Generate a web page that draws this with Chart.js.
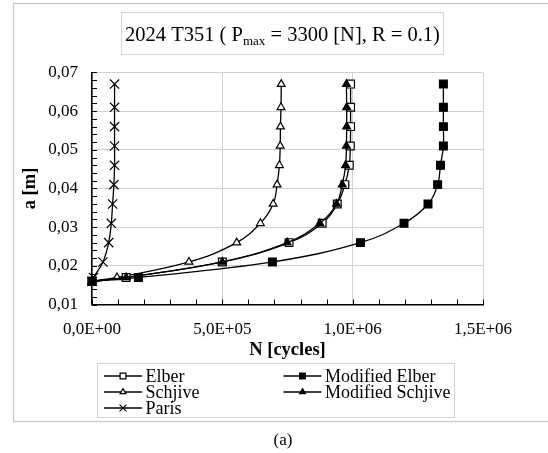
<!DOCTYPE html>
<html>
<head>
<meta charset="utf-8">
<script src="https://cdn.jsdelivr.net/npm/chart.js@4/dist/chart.umd.min.js"></script>
<style>
  html, body { margin: 0; padding: 0; background: #fff; }
  #wrap { width: 548px; height: 453px; }
</style>
</head>
<body>
<div id="wrap"><canvas id="c" width="548" height="453"></canvas></div>
<script>
// crack length levels [m], shared by all series
const aLevels = [0.016, 0.017, 0.021, 0.026, 0.031, 0.036, 0.041, 0.046, 0.051, 0.056, 0.061, 0.067];

// cycles for each model
const nElber       = [0, 131000, 500000, 756000, 883000, 941000, 970000, 987000, 991000, 992000, 992000, 992000];
const nSchjive     = [0, 96000, 372000, 555000, 646000, 695000, 710000, 719000, 722000, 723000, 725000, 726000];
const nParis       = [0, 6000, 42000, 64000, 74000, 79000, 84000, 86500, 86500, 86500, 86500, 86500];
const nModElber    = [0, 178000, 692000, 1030000, 1197000, 1289000, 1326000, 1337000, 1348000, 1348000, 1348000, 1348000];
const nModSchjive  = [0, 131000, 500000, 749000, 874000, 938000, 960000, 973000, 976000, 977000, 977000, 976000];

const seriesNames = ['Elber', 'Schjive', 'Paris', 'Modified Elber', 'Modified Schjive'];

const xTickLabels = ['0,0E+00', '5,0E+05', '1,0E+06', '1,5E+06'];
const yTickLabels = ['0,01', '0,02', '0,03', '0,04', '0,05', '0,06', '0,07'];

const SERIF = '"Liberation Serif", "Times New Roman", serif';

function pts(ns) {
    return ns.map(function (n, i) { return { x: n, y: aLevels[i] }; });
}

function series(label, ns, style, fill, radius, order) {
    return {
        label: label,
        data: pts(ns),
        order: order,
        showLine: true,
        tension: 0.4,
        borderColor: '#000',
        borderWidth: 1.3,
        pointStyle: style,
        pointRadius: radius,
        pointHoverRadius: radius,
        pointBackgroundColor: fill,
        pointBorderColor: '#000',
        pointBorderWidth: 1.2,
        clip: false
    };
}

// legend slots (col, row) for each dataset index
const legendSlots = [[0, 0], [0, 1], [0, 2], [1, 0], [1, 1]];

const decor = {
    id: 'decor',
    beforeDraw: function (chart) {
        const ctx = chart.ctx;
        ctx.save();
        ctx.fillStyle = '#fff';
        ctx.fillRect(0, 0, chart.width, chart.height);

        // outer frame
        ctx.strokeStyle = '#c8c8c8';
        ctx.lineWidth = 1.2;
        ctx.strokeRect(13.5, 3.5, 545, 418);

        // title box
        ctx.strokeStyle = '#d4d4d4';
        ctx.lineWidth = 1;
        ctx.strokeRect(121.5, 12.5, 322, 42);

        // title text with subscript
        const big = '20.5px ' + SERIF, small = '13px ' + SERIF;
        const t1 = '2024 T351 ( P', t2 = 'max', t3 = ' = 3300 [N], R = 0.1)';
        ctx.font = big;
        const w1 = ctx.measureText(t1).width, w3 = ctx.measureText(t3).width;
        ctx.font = small;
        const w2 = ctx.measureText(t2).width;
        let x = 282.5 - (w1 + w2 + w3) / 2;
        const base = 40.5;
        ctx.fillStyle = '#000';
        ctx.textBaseline = 'alphabetic';
        ctx.textAlign = 'left';
        ctx.font = big;
        ctx.fillText(t1, x, base);
        x += w1;
        ctx.font = small;
        ctx.fillText(t2, x, base + 4);
        x += w2;
        ctx.font = big;
        ctx.fillText(t3, x, base);

        // legend box
        ctx.strokeStyle = '#d4d4d4';
        ctx.strokeRect(97.5, 363.5, 357, 54);
        ctx.restore();
    },
    beforeDatasetsDraw: function (chart) {
        // inward tick marks
        const ctx = chart.ctx, xs = chart.scales.x, ys = chart.scales.y;
        const area = chart.chartArea;
        ctx.save();
        ctx.strokeStyle = '#000';
        ctx.lineWidth = 1;
        ctx.beginPath();
        for (let v = 0.01; v <= 0.0701; v += 0.002) {
            const py = Math.round(ys.getPixelForValue(v)) + 0.5;
            ctx.moveTo(area.left, py);
            ctx.lineTo(area.left + 5, py);
        }
        for (let v = 0; v <= 1.5e6 + 1; v += 1e5) {
            const px = Math.round(xs.getPixelForValue(v)) + 0.5;
            ctx.moveTo(px, area.bottom);
            ctx.lineTo(px, area.bottom - 5);
        }
        ctx.stroke();
        ctx.restore();
    },
    afterDraw: function (chart) {
        const ctx = chart.ctx, area = chart.chartArea;
        ctx.save();
        ctx.fillStyle = '#000';
        ctx.textAlign = 'center';
        ctx.textBaseline = 'middle';

        // axis titles
        ctx.font = 'bold 18.5px ' + SERIF;
        ctx.fillText('N [cycles]', (area.left + area.right) / 2, 350);
        ctx.save();
        ctx.translate(30, (area.top + area.bottom) / 2);
        ctx.rotate(-Math.PI / 2);
        ctx.fillText('a [m]', 0, 0);
        ctx.restore();

        // caption
        ctx.font = '17px ' + SERIF;
        ctx.fillText('(a)', 283, 441);

        // legend entries
        const colX = [104, 283.5];
        const rowY = [376, 392, 408];
        ctx.font = '18px ' + SERIF;
        ctx.textAlign = 'left';
        chart.data.datasets.forEach(function (ds, i) {
            const slot = legendSlots[i];
            const x0 = colX[slot[0]], y = rowY[slot[1]];
            ctx.strokeStyle = '#000';
            ctx.lineWidth = 1.3;
            ctx.beginPath();
            ctx.moveTo(x0, y);
            ctx.lineTo(x0 + 38, y);
            ctx.stroke();
            ctx.fillStyle = ds.pointBackgroundColor;
            ctx.strokeStyle = '#000';
            ctx.lineWidth = 1.2;
            Chart.helpers.drawPoint(ctx, {
                pointStyle: ds.pointStyle,
                radius: ds.pointRadius * 0.75,
                rotation: 0,
                borderWidth: 1.2
            }, x0 + 19, y);
            ctx.fillStyle = '#000';
            ctx.fillText(ds.label, x0 + 41.5, y + 1);
        });
        ctx.restore();
    }
};

const chart = new Chart(document.getElementById('c'), {
    type: 'scatter',
    data: {
        datasets: [
            series(seriesNames[0], nElber, 'rect', '#fff', 5.5, 2),
            series(seriesNames[1], nSchjive, 'triangle', '#fff', 4.5, 2),
            series(seriesNames[2], nParis, 'crossRot', '#000', 6.5, 2),
            series(seriesNames[3], nModElber, 'rect', '#000', 5.5, 1),
            series(seriesNames[4], nModSchjive, 'triangle', '#000', 4.5, 0)
        ]
    },
    options: {
        responsive: false,
        animation: false,
        devicePixelRatio: 1,
        layout: { padding: { left: 0, right: 65, top: 72.5, bottom: 0 } },
        plugins: {
            legend: { display: false },
            title: { display: false },
            tooltip: { enabled: false }
        },
        scales: {
            x: {
                type: 'linear',
                min: 0,
                max: 1.5e6,
                afterFit: function (s) { s.height = 148.5; },
                afterBuildTicks: function (s) {
                    s.ticks = xTickLabels.map(function (_, i) { return { value: i * 5e5 }; });
                },
                ticks: {
                    padding: 15,
                    color: '#000',
                    font: { family: SERIF, size: 17 },
                    maxRotation: 0,
                    callback: function (v, i) { return xTickLabels[i]; }
                },
                grid: { color: '#d0d0d0', lineWidth: 1, drawTicks: false },
                border: { color: '#000', width: 1.5 }
            },
            y: {
                type: 'linear',
                min: 0.01,
                max: 0.07,
                afterFit: function (s) { s.width = 92; },
                afterBuildTicks: function (s) {
                    s.ticks = yTickLabels.map(function (_, i) { return { value: 0.01 + i * 0.01 }; });
                },
                ticks: {
                    padding: 14,
                    color: '#000',
                    font: { family: SERIF, size: 17 },
                    callback: function (v, i) { return yTickLabels[i]; }
                },
                grid: { color: '#d0d0d0', lineWidth: 1, drawTicks: false },
                border: { color: '#000', width: 1.5 }
            }
        }
    },
    plugins: [decor]
});
</script>
</body>
</html>
